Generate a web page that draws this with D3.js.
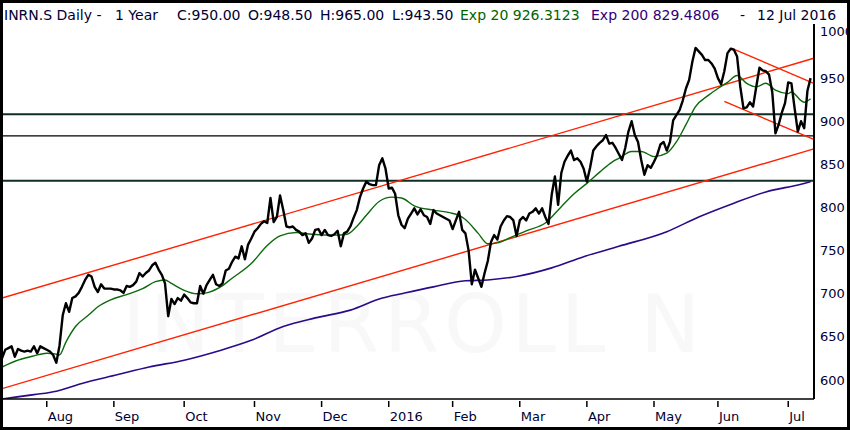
<!DOCTYPE html>
<html>
<head>
<meta charset="utf-8">
<script src="https://cdnjs.cloudflare.com/ajax/libs/d3/7.8.5/d3.min.js"></script>
<style>
  body { margin: 0; background: #fff; }
  text { font-family: "DejaVu Sans", Verdana, sans-serif; }
</style>
</head>
<body>
<div id="chart"></div>
<script>
(function() {

  // daily closes, trading day 0 = mid Jul 2015 ... 253 = 12 Jul 2016
  var closes = [
    625, 635, 637, 639, 627, 636, 634, 633, 634, 633,
    639, 631, 639, 637, 635, 633, 629, 620, 640, 675,
    689, 679, 695, 697, 701, 708, 716, 722, 720, 708,
    702, 711, 706, 706, 706, 705, 705, 704, 701, 709,
    708, 710, 714, 724, 720, 724, 727, 733, 736, 728,
    722, 712, 674, 694, 688, 695, 692, 699, 695, 690,
    689, 689, 709, 700, 710, 716, 722, 711, 709, 712,
    727, 729, 737, 743, 741, 755, 740, 757, 764, 772,
    776, 781, 784, 782, 811, 783, 789, 814, 797, 778,
    777, 778, 774, 772, 768, 770, 759, 764, 774, 775,
    768, 774, 768, 767, 769, 773, 755, 770, 772, 778,
    788, 797, 812, 822, 830, 827, 826, 826, 849, 857,
    845, 822, 823, 816, 791, 780, 776, 787, 793, 799,
    792, 798, 791, 789, 781, 797, 793, 791, 789, 787,
    785, 775, 785, 795, 774, 770, 750, 711, 728, 718,
    708, 724, 738, 760, 768, 763, 778, 785, 790, 789,
    785, 767, 785, 789, 785, 793, 795, 799, 793, 799,
    789, 781, 815, 836, 803, 840, 853, 860, 866, 855,
    857, 853, 845, 830, 846, 866, 871, 875, 878, 884,
    874, 875, 869, 862, 855, 869, 888, 900, 884, 876,
    855, 838, 849, 846, 853, 861, 873, 876, 866, 876,
    901, 907, 913, 924, 938, 948, 969, 985, 981, 977,
    971, 971, 967, 961, 950, 943, 958, 979, 984, 983,
    975, 940, 915, 916, 922, 917, 940, 962, 959, 958,
    954, 934, 886, 896, 910, 921, 945, 944, 915, 888,
    900, 892, 935, 950
  ];

  var ema20Day = [0, 5, 10, 14, 17, 18, 20, 23, 27, 30, 34, 39, 44, 48, 51, 53, 57, 61, 64, 68,
                  72, 78, 83, 87, 92, 97, 104, 108, 111, 114, 118, 122, 125, 129, 135, 140, 143,
                  145, 149, 152, 155, 159, 164, 170, 175, 179, 183, 187, 191, 193, 197, 200, 204,
                  208, 211, 214, 217, 221, 224, 227, 230, 233, 236, 239, 242, 246, 247, 250, 251, 253];
  var ema20Val = [615, 623, 628, 631, 630, 629, 644, 662, 675, 685, 693, 699, 706, 714, 716, 712, 704, 700, 701, 707,
                  718, 735, 756, 767, 771, 769, 768, 769, 778, 791, 807, 812, 811, 802, 797, 794, 791,
                  786, 770, 758, 759, 765, 773, 782, 801, 816, 828, 841, 853, 857, 865, 865, 859,
                  863, 876, 896, 917, 930, 938, 945, 953, 944, 940, 944, 936, 932, 934, 924, 922, 926];

  var ema200Day = [0, 10, 17, 25, 36, 46, 57, 68, 78, 88, 98, 109, 119, 125, 135, 145, 152, 161,
                   172, 182, 193, 208, 218, 229, 239, 250, 253];
  var ema200Val = [578, 583, 587, 596, 606, 615, 623, 634, 646, 662, 672, 681, 695, 700, 708, 715, 716, 720,
                   730, 743, 755, 772, 789, 805, 818, 827, 830];

  // trend lines: [day0, value0, day1, value1]
  var trendLines = [
    [0, 695, 254, 973],
    [0, 590, 254, 868],
    [228, 985, 254, 944],
    [226, 923, 254, 879]
  ];
  var levels = [908, 883, 831];
  var levelWidth = [2, 1.2, 2];

  var monthDay = [14, 35, 57, 79, 100, 121, 141, 162, 183, 204, 224, 246];
  var monthLabel = ["Aug", "Sep", "Oct", "Nov", "Dec", "2016", "Feb", "Mar", "Apr", "May", "Jun", "Jul"];
  var priceTicks = [600, 650, 700, 750, 800, 850, 900, 950, 1000];

  var width = 850, height = 430,
      plot = { left: 2, right: 814, top: 24, bottom: 399 };

  var svg = d3.select("#chart")
        .append("svg")
        .attr("width", width)
        .attr("height", height);

  var x = d3.scaleLinear().domain([0, 253]).range([2, 810.6]);
  var y = d3.scaleLinear().domain([600, 1000]).range([380, 35]);

  svg.append("defs").append("clipPath").attr("id", "plotclip")
    .append("rect")
    .attr("x", plot.left).attr("y", plot.top)
    .attr("width", plot.right - plot.left).attr("height", plot.bottom - plot.top);

  var g = svg.append("g").attr("clip-path", "url(#plotclip)");

  // faint watermark
  g.append("text")
    .attr("x", 122).attr("y", 352)
    .attr("textLength", 578).attr("lengthAdjust", "spacing")
    .attr("font-size", 80)
    .attr("fill", "#f8f8f8")
    .text("INTERROLL N");

  g.selectAll(".level")
    .data(levels)
    .enter().append("line")
    .attr("x1", plot.left).attr("x2", plot.right)
    .attr("y1", function(d){ return y(d); })
    .attr("y2", function(d){ return y(d); })
    .attr("stroke", function(d, i){ return levelWidth[i] > 1.5 ? "#0f2e26" : "#000"; })
    .attr("stroke-width", function(d, i){ return levelWidth[i]; });

  g.selectAll(".trend")
    .data(trendLines)
    .enter().append("line")
    .attr("x1", function(d){ return x(d[0]); })
    .attr("y1", function(d){ return y(d[1]); })
    .attr("x2", function(d){ return x(d[2]); })
    .attr("y2", function(d){ return y(d[3]); })
    .attr("stroke", "#ff2200")
    .attr("stroke-width", 1.4);

  var smooth = d3.line()
    .x(function(d){ return x(d[0]); })
    .y(function(d){ return y(d[1]); })
    .curve(d3.curveMonotoneX);

  g.append("path")
    .attr("d", smooth(d3.zip(ema200Day, ema200Val)))
    .attr("fill", "none")
    .attr("stroke", "#2b0a8a")
    .attr("stroke-width", 1.6);

  g.append("path")
    .attr("d", smooth(d3.zip(ema20Day, ema20Val)))
    .attr("fill", "none")
    .attr("stroke", "#0a6a0a")
    .attr("stroke-width", 1.4);

  var priceLine = d3.line()
    .x(function(d, i){ return x(i); })
    .y(function(d){ return y(d); });

  g.append("path")
    .attr("d", priceLine(closes))
    .attr("fill", "none")
    .attr("stroke", "#000")
    .attr("stroke-width", 2.4)
    .attr("stroke-linejoin", "round");

  // axes
  svg.append("line")
    .attr("x1", plot.left).attr("x2", plot.right)
    .attr("y1", plot.bottom).attr("y2", plot.bottom)
    .attr("stroke", "#000").attr("stroke-width", 1.5);
  svg.append("line")
    .attr("x1", plot.right).attr("x2", plot.right)
    .attr("y1", plot.top).attr("y2", plot.bottom)
    .attr("stroke", "#000").attr("stroke-width", 2);

  svg.selectAll(".mtick")
    .data(monthDay)
    .enter().append("line")
    .attr("x1", function(d){ return x(d); })
    .attr("x2", function(d){ return x(d); })
    .attr("y1", plot.bottom + 2).attr("y2", plot.bottom + 8)
    .attr("stroke", "#000").attr("stroke-width", 1.5);

  svg.selectAll(".mlabel")
    .data(monthDay)
    .enter().append("text")
    .attr("x", function(d){ return x(d) + 1; })
    .attr("y", 421)
    .attr("font-size", 13)
    .attr("fill", "#000033")
    .text(function(d, i){ return monthLabel[i]; });

  svg.selectAll(".plabel")
    .data(priceTicks)
    .enter().append("text")
    .attr("x", 820)
    .attr("y", function(d){ return d === 1000 ? y(d) - 4 : y(d); })
    .attr("dy", "0.35em")
    .attr("font-size", 13)
    .attr("fill", "#000033")
    .text(function(d){ return d; });

  // header
  var header = [
    ["INRN.S Daily -", 4, "#000033"],
    ["1 Year", 115, "#000033"],
    ["C:950.00", 177, "#000033"],
    ["O:948.50", 248, "#000033"],
    ["H:965.00", 320, "#000033"],
    ["L:943.50", 392, "#000033"],
    ["Exp 20 926.3123", 460, "#006400"],
    ["Exp 200 829.4806", 591, "#330077"],
    ["-", 740, "#000033"],
    ["12 Jul 2016", 757, "#000033"]
  ];
  svg.selectAll(".head")
    .data(header)
    .enter().append("text")
    .attr("x", function(d){ return d[1]; })
    .attr("y", 20)
    .attr("font-size", 14)
    .attr("fill", function(d){ return d[2]; })
    .text(function(d){ return d[0]; });

  // outer frame
  svg.append("rect")
    .attr("x", 1.5).attr("y", 1.5)
    .attr("width", width - 3).attr("height", height - 3)
    .attr("fill", "none")
    .attr("stroke", "#000")
    .attr("stroke-width", 3);

})();
</script>
</body>
</html>
